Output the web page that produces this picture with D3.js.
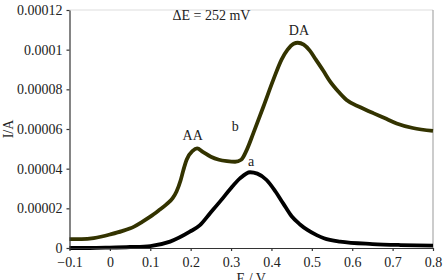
<!DOCTYPE html>
<html><head><meta charset="utf-8">
<script src="https://cdn.jsdelivr.net/npm/d3@7"></script>
<style>body{margin:0;background:#fff}svg{display:block}text{font-family:"Liberation Serif","Times New Roman",serif;fill:#222}</style>
</head><body><svg id="c" width="444" height="280"></svg>
<script>
// Curve b (AA + DA), potential in V, current in units of 1e-5 A
const eB = [-0.1,-0.07,-0.04,-0.02,0.0,0.03,0.06,0.08,0.1,0.12,0.14,0.155,0.165,0.175,0.182,0.19,0.205,0.216,0.23,0.25,0.27,0.29,0.31,0.325,0.34,0.355,0.38,0.405,0.425,0.44,0.455,0.465,0.48,0.495,0.51,0.528,0.545,0.565,0.586,0.62,0.652,0.68,0.71,0.75,0.8];
const iB = [0.45,0.45,0.5,0.58,0.68,0.85,1.08,1.32,1.58,1.88,2.2,2.5,2.85,3.4,3.93,4.45,4.9,5.02,4.85,4.6,4.45,4.38,4.35,4.45,5.0,5.78,7.12,8.5,9.5,10.0,10.3,10.35,10.25,9.95,9.5,8.95,8.4,7.9,7.46,7.1,6.8,6.55,6.28,6.05,5.9];
// Curve a (DA only)
const eA = [-0.1,-0.05,0.0,0.05,0.1,0.149,0.198,0.223,0.248,0.275,0.297,0.322,0.347,0.365,0.388,0.41,0.429,0.45,0.47,0.49,0.512,0.53,0.57,0.65,0.72,0.8];
const iA = [0.0,0.0,0.02,0.05,0.1,0.32,0.82,1.15,1.75,2.4,2.95,3.51,3.82,3.75,3.43,2.85,2.25,1.6,1.2,0.9,0.65,0.49,0.32,0.2,0.15,0.12];
const xTicks = [-0.1,0,0.1,0.2,0.3,0.4,0.5,0.6,0.7,0.8];
const xTickLabels = ["\u22120.1","0","0.1","0.2","0.3","0.4","0.5","0.6","0.7","0.8"];
const yTicks = [0,0.00002,0.00004,0.00006,0.00008,0.0001,0.00012];
const yTickLabels = ["0","0.00002","0.00004","0.00006","0.00008","0.0001","0.00012"];
const annotations = [
  {t:"\u0394E = 252 mV", e:0.155, i:0.000115},
  {t:"DA", e:0.443, i:0.0001075},
  {t:"AA", e:0.18, i:0.0000545},
  {t:"b", e:0.302, i:0.0000592},
  {t:"a", e:0.342, i:0.0000412}
];

const svg = d3.select("#c");
const L=69.5, R=433, T=10, B=248;
const x = d3.scaleLinear().domain([-0.1,0.8]).range([L,R]);
const y = d3.scaleLinear().domain([0,0.00012]).range([B,T]);

// frame
svg.append("line").attr("x1",L).attr("x2",R).attr("y1",T).attr("y2",T).attr("stroke","#ddd").attr("stroke-width",1);
svg.append("line").attr("x1",R).attr("x2",R).attr("y1",T).attr("y2",B).attr("stroke","#999").attr("stroke-width",1);

const line = d3.line().x(d=>x(d[0])).y(d=>y(d[1]*1e-5)).curve(d3.curveMonotoneX);
svg.append("path").datum(eA.map((e,k)=>[e,iA[k]])).attr("d",line).attr("fill","none").attr("stroke","#000").attr("stroke-width",3.8);
svg.append("path").datum(eB.map((e,k)=>[e,iB[k]])).attr("d",line).attr("fill","none").attr("stroke","#333300").attr("stroke-width",3.8);

const xa = svg.append("g").attr("transform",`translate(0,${B})`)
  .call(d3.axisBottom(x).tickValues(xTicks).tickFormat((d,k)=>xTickLabels[k]).tickSize(3).tickSizeOuter(0).tickPadding(6));
const ya = svg.append("g").attr("transform",`translate(${L},0)`)
  .call(d3.axisLeft(y).tickValues(yTicks).tickFormat((d,k)=>yTickLabels[k]).tickSize(3).tickSizeOuter(0).tickPadding(4));
[xa,ya].forEach(g=>{
  g.selectAll("path,line").attr("stroke","#333").attr("stroke-width",1.2);
  g.selectAll("text").attr("font-size",14).attr("fill","#222");
});

svg.append("text").attr("x",(L+R)/2).attr("y",283).attr("text-anchor","middle").attr("font-size",14).text("E / V");
svg.append("text").attr("transform",`translate(13,${(T+B)/2}) rotate(-90)`).attr("text-anchor","middle").attr("font-size",14).text("I/A");

svg.selectAll("text.ann").data(annotations).enter().append("text").attr("class","ann")
  .attr("x",d=>x(d.e)).attr("y",d=>y(d.i)).attr("font-size",14).text(d=>d.t);
</script></body></html>
